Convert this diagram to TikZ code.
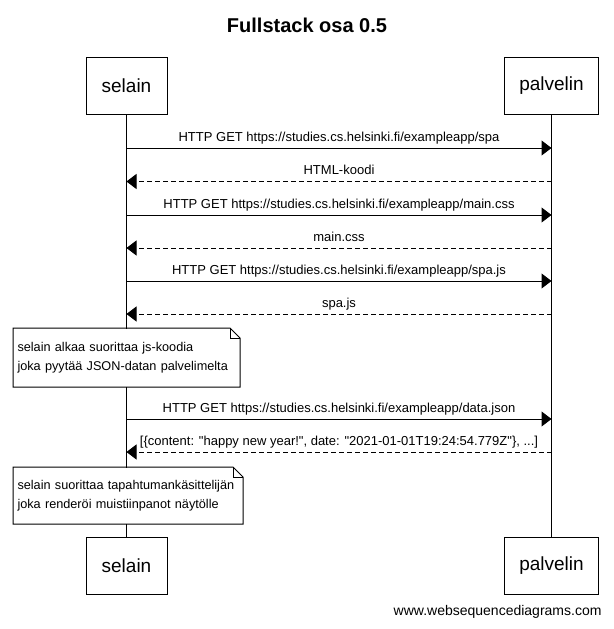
\documentclass[tikz,border=0pt]{standalone}
\usepackage{fontspec}
\setmainfont{Liberation Sans}[Ligatures=TeXOff]
\usetikzlibrary{arrows.meta}

\tikzset{
  actor/.style={draw, fill=white, minimum height=57pt, inner sep=0pt, font=\fontsize{19}{22}\selectfont},
  msg/.style={-{Triangle[length=10pt,width=15pt]}},
  reply/.style={msg, dash pattern=on 5pt off 3pt},
  lbl/.style={anchor=base, yshift=7pt, inner sep=0pt, font=\fontsize{13}{15}\selectfont},
  note/.style={anchor=north west, fill=white, align=left, inner xsep=4pt, inner ysep=0pt, font=\fontsize{12.7}{19}\selectfont, execute at begin node={\hyphenpenalty 10000 \exhyphenpenalty 10000 }},
}

\begin{document}
\begin{tikzpicture}[x=1pt, y=-1pt, line width=1pt]
        \useasboundingbox (0,0) rectangle (613,629);
        \node[font=\bfseries\fontsize{20}{24}\selectfont] (title) at (307,25) {Fullstack osa 0.5};
        \node[actor, minimum width=81pt] (selain1) at (126.5,85.5) {selain};
        \node[actor, minimum width=94pt] (palvelin1) at (551.5,85.5) {palvelin};
        \node[actor, minimum width=81pt] (selain2) at (126.5,565.5) {selain};
        \node[actor, minimum width=94pt] (palvelin2) at (551.5,565.5) {palvelin};
        \draw (selain1) -- (selain2);
        \draw (palvelin1) -- (palvelin2);
        \coordinate (s-spa) at (126.5,148);
        \coordinate (p-spa) at (551.5,148);
        \coordinate (s-html) at (126.5,181.5);
        \coordinate (p-html) at (551.5,181.5);
        \coordinate (s-css) at (126.5,215);
        \coordinate (p-css) at (551.5,215);
        \coordinate (s-cssr) at (126.5,248);
        \coordinate (p-cssr) at (551.5,248);
        \coordinate (s-js) at (126.5,281);
        \coordinate (p-js) at (551.5,281);
        \coordinate (s-jsr) at (126.5,314);
        \coordinate (p-jsr) at (551.5,314);
        \coordinate (s-json) at (126.5,419);
        \coordinate (p-json) at (551.5,419);
        \coordinate (s-jsonr) at (126.5,452);
        \coordinate (p-jsonr) at (551.5,452);
        \draw[msg] (s-spa) -- node[lbl] (l-spa) {HTTP GET https://studies.cs.helsinki.fi/exampleapp/spa} (p-spa);
        \draw[reply] (p-html) -- node[lbl] (l-html) {HTML-koodi} (s-html);
        \draw[msg] (s-css) -- node[lbl] (l-css) {HTTP GET https://studies.cs.helsinki.fi/exampleapp/main.css} (p-css);
        \draw[reply] (p-cssr) -- node[lbl] (l-cssr) {main.css} (s-cssr);
        \draw[msg] (s-js) -- node[lbl] (l-js) {HTTP GET https://studies.cs.helsinki.fi/exampleapp/spa.js} (p-js);
        \draw[reply] (p-jsr) -- node[lbl] (l-jsr) {spa.js} (s-jsr);
        \draw[msg] (s-json) -- node[lbl] (l-json) {HTTP GET https://studies.cs.helsinki.fi/exampleapp/data.json} (p-json);
        \draw[reply] (p-jsonr) -- node[lbl] (l-jsonr) {[\{content: "happy new year!", date: "2021-01-01T19:24:54.779Z"\}, ...]} (s-jsonr);
        \node[note, text width=218pt, minimum height=58pt] (note1) at (13,328) {selain alkaa suorittaa js-koodia\\joka pyytää JSON-datan palvelimelta};
        \draw (note1.north west) -- ([xshift=-10pt]note1.north east) -- ([yshift=-10pt]note1.north east) -- (note1.south east) -- (note1.south west) -- cycle;
        \draw ([xshift=-10pt]note1.north east) |- ([yshift=-10pt]note1.north east);
        \node[note, text width=221pt, minimum height=56pt] (note2) at (13,467) {selain suorittaa tapahtumankäsittelijän\\joka renderöi muistiinpanot näytölle};
        \draw (note2.north west) -- ([xshift=-10pt]note2.north east) -- ([yshift=-10pt]note2.north east) -- (note2.south east) -- (note2.south west) -- cycle;
        \draw ([xshift=-10pt]note2.north east) |- ([yshift=-10pt]note2.north east);
        \node[anchor=east, inner sep=0pt, font=\fontsize{14}{16}\selectfont] (wsd) at (602,612) {www.websequencediagrams.com};
    \end{tikzpicture}
\end{document}
